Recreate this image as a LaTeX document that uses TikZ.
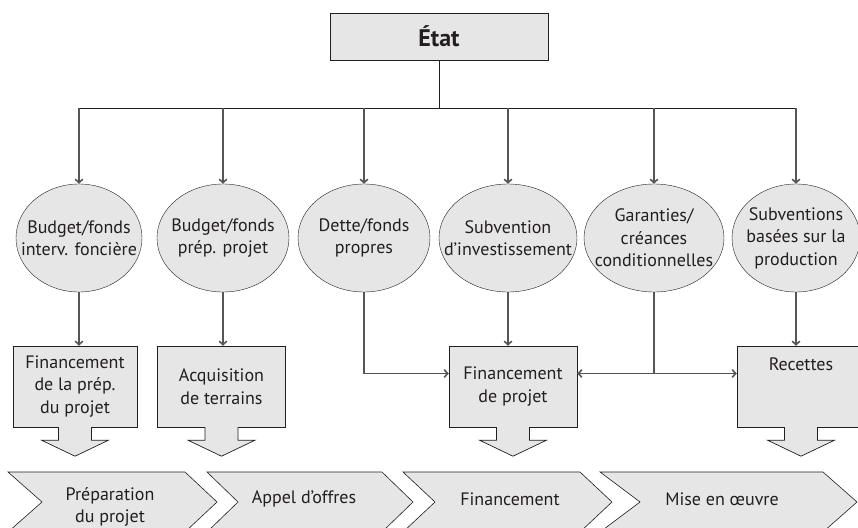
\documentclass[tikz,border=0pt]{standalone}
\usepackage{fontspec}
\setmainfont{PT Sans}
\usetikzlibrary{shapes.geometric,arrows.meta}
\definecolor{boxgray}{RGB}{230,230,231}
\definecolor{linegray}{RGB}{85,85,85}
\definecolor{inkgray}{RGB}{35,31,32}

\tikzset{
  oval/.style={ellipse,draw=inkgray,fill=boxgray,minimum height=108pt,inner sep=0pt},
  ovaltext/.style={align=center,text=inkgray,font=\fontsize{18}{22.5}\selectfont},
  stepbox/.style={rectangle,draw=inkgray,fill=boxgray,minimum width=128pt,minimum height=81pt,
    align=center,text=inkgray,font=\fontsize{18}{22.5}\selectfont,inner sep=2pt},
  chev/.style={draw=inkgray,fill=boxgray,line width=0.6pt},
  phase/.style={align=center,text=inkgray,font=\fontsize{18}{22.5}\selectfont},
  bus/.style={draw=inkgray,line width=0.9pt},
  conn/.style={draw=linegray,line width=1.8pt},
  tip/.style={-{Straight Barb[length=3.5pt,width=7.5pt,line width=1.6pt]}}
}

\begin{document}
\begin{tikzpicture}[x=1pt,y=-1pt]
  \useasboundingbox (0,0) rectangle (858,527);

  % top
  \node[rectangle,draw=inkgray,fill=boxgray,minimum width=218pt,minimum height=47pt,
        text=inkgray,font=\fontsize{24}{28}\selectfont\bfseries] (etat) at (439,36.5) {État};
  \coordinate (bus) at (439,108);

  % ovals
  \node[oval,minimum width=126pt] (e1) at (79,238) {};
  \node[oval,minimum width=132pt] (e2) at (223,238) {};
  \node[oval,minimum width=132pt] (e3) at (364,238) {};
  \node[oval,minimum width=138pt] (e4) at (508,238) {};
  \node[oval,minimum width=140pt] (e5) at (654,238) {};
  \node[oval,minimum width=128pt] (e6) at (796,238) {};
  \node[ovaltext] (t1) at (e1) {Budget/fonds\\interv. foncière};
  \node[ovaltext] (t2) at (e2) {Budget/fonds\\prép. projet};
  \node[ovaltext] (t3) at (e3) {Dette/fonds\\propres};
  \node[ovaltext] (t4) at (e4) {Subvention\\d’investissement};
  \node[ovaltext] (t5) at (e5) {Garanties/\\créances\\conditionnelles};
  \node[ovaltext] (t6) at (e6) {Subventions\\basées sur la\\production};

  % boxes
  \node[stepbox,minimum width=124pt] (b1) at (75,386.5) {Financement\\de la prép.\\du projet};
  \node[stepbox] (b2) at (221.5,386.5) {Acquisition\\de terrains};
  \node[stepbox] (b3) at (513,386.5) {Financement\\de projet};
  \node[stepbox] (b4) at (801,386.5) {Recettes\\[22pt]};

  % block arrows under the boxes
  \foreach \b in {b1,b2,b3,b4} {
    \fill[boxgray] ([xshift=-16.5pt,yshift=1pt]\b.south) -- ++(0,14) -- ++(-17,0) -- ++(33.5,16)
      -- ++(33.5,-16) -- ++(-17,0) -- ++(0,-14) -- cycle;
    \draw[draw=inkgray,line width=0.7pt] ([xshift=-16.5pt]\b.south) -- ++(0,13) -- ++(-17,0) -- ++(33.5,16)
      -- ++(33.5,-16) -- ++(-17,0) -- ++(0,-13);
  }

  % phases
  \draw[chev] (8,472) -- (185,472) -- (217,502) -- (185,532) -- (8,532) -- (42,502) -- cycle;
  \draw[chev] (207,472) -- (382,472) -- (413,502) -- (382,532) -- (207,532) -- (238,502) -- cycle;
  \draw[chev] (403,472) -- (580,472) -- (612,502) -- (580,532) -- (403,532) -- (435,502) -- cycle;
  \draw[chev] (600,472) -- (823,472) -- (857,502) -- (823,532) -- (600,532) -- (640,502) -- cycle;
  \node[phase] (p1) at (110,507) {Préparation\\du projet};
  \node[phase] (p2) at (304,499) {Appel d’offres};
  \node[phase] (p3) at (510,499) {Financement};
  \node[phase] (p4) at (722,499) {Mise en œuvre};

  % connectors
  \draw[bus] (etat.south) -- (bus);
  \draw[bus] (bus -| e1) -- (bus -| e6);
  \foreach \e in {e1,e2,e3,e4,e5,e6}
    \draw[conn,tip] (bus -| \e) -- (\e.north);
  \draw[conn,tip] (e1.south) -- (b1.north -| e1);
  \draw[conn,tip] (e2.south) -- (b2.north -| e2);
  \draw[conn,tip] (e4.south) -- (b3.north -| e4);
  \draw[conn,tip] (e6.south) -- (b4.north -| e6);
  \coordinate (j) at ([yshift=13pt]b3.west);
  \draw[conn,tip] (e3.south) |- (j);
  \draw[conn] (e5.south) -- (e5.south |- j);
  \draw[conn,tip] (e5.south |- j) -- (b3.east |- j);
  \draw[conn,tip] (e5.south |- j) -- (b4.west |- j);
\end{tikzpicture}
\end{document}
